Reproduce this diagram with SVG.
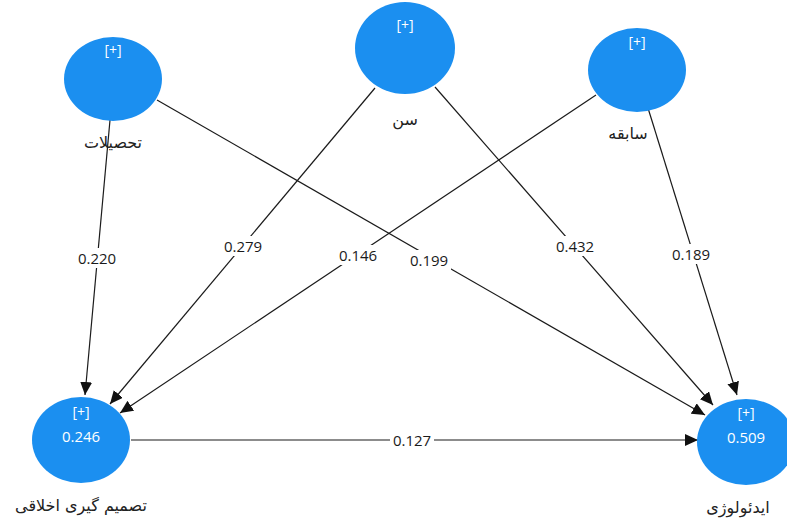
<svg xmlns="http://www.w3.org/2000/svg" width="787" height="522" viewBox="0 0 787 522">
<style>
.node{fill:#1b8ff0}
.plus{fill:#ffffff;font-family:"Open Sans","Noto Sans","DejaVu Sans",sans-serif;font-size:14px;text-anchor:middle}
.val{fill:#ffffff;font-family:"Open Sans","Noto Sans","DejaVu Sans",sans-serif;font-size:15px;text-anchor:middle}
.name{fill:#222222;font-family:"DejaVu Sans","Noto Sans",sans-serif;font-size:16px;text-anchor:middle}
.edge{stroke:#1a1a1a;stroke-width:1.2;fill:none;marker-end:url(#arr)}
.lbg{fill:#ffffff}
.lbl{fill:#1a1a1a;font-family:"Open Sans","Noto Sans",sans-serif;font-size:15px;text-anchor:middle;dominant-baseline:central}
</style>
<defs>
<marker id="arr" markerUnits="userSpaceOnUse" markerWidth="14" markerHeight="12" refX="13" refY="6" orient="auto">
<path d="M0,0 L13,6 L0,12 Z" fill="#111111"/>
</marker>
</defs>
<rect width="787" height="522" fill="#ffffff"/>
<g id="connectors">
<line class="edge" x1="110" y1="120" x2="85" y2="395"/>
<line class="edge" x1="157" y1="100" x2="705" y2="415"/>
<line class="edge" x1="375" y1="88" x2="110" y2="404"/>
<line class="edge" x1="435" y1="87" x2="713" y2="405"/>
<line class="edge" x1="596" y1="95" x2="120" y2="413"/>
<line class="edge" x1="648" y1="108" x2="737" y2="395"/>
<line class="edge" x1="131" y1="440" x2="698" y2="440"/>
<g id="edge-labels">
<rect class="lbg" x="75" y="248" width="44" height="20"/><text class="lbl" x="97" y="258">0.220</text>
<rect class="lbg" x="407" y="250" width="44" height="20"/><text class="lbl" x="429" y="260">0.199</text>
<rect class="lbg" x="221" y="236" width="44" height="20"/><text class="lbl" x="243" y="246">0.279</text>
<rect class="lbg" x="553" y="236" width="44" height="20"/><text class="lbl" x="575" y="246">0.432</text>
<rect class="lbg" x="336" y="245" width="44" height="20"/><text class="lbl" x="358" y="255">0.146</text>
<rect class="lbg" x="669" y="244" width="44" height="20"/><text class="lbl" x="691" y="254">0.189</text>
<rect class="lbg" x="390" y="430" width="44" height="20"/><text class="lbl" x="412" y="440">0.127</text>
</g>
</g>
<g id="n-education">
<ellipse class="node" cx="113" cy="79" rx="49" ry="42"/>
<text class="plus" x="113" y="55">[+]</text>
<text class="name" x="113" y="148">تحصیلات</text>
</g>
<g id="n-age">
<ellipse class="node" cx="405" cy="48" rx="50" ry="46"/>
<text class="plus" x="405" y="30">[+]</text>
<text class="name" x="405" y="125">سن</text>
</g>
<g id="n-experience">
<ellipse class="node" cx="637" cy="70" rx="49" ry="42"/>
<text class="plus" x="637" y="47">[+]</text>
<text class="name" x="628" y="139">سابقه</text>
</g>
<g id="n-decision">
<ellipse class="node" cx="81" cy="440" rx="49" ry="43"/>
<text class="plus" x="81" y="417">[+]</text>
<text class="val" x="81" y="442">0.246</text>
<text class="name" x="81" y="511">تصمیم گیری اخلاقی</text>
</g>
<g id="n-ideology">
<ellipse class="node" cx="746" cy="442" rx="49" ry="43"/>
<text class="plus" x="746" y="418">[+]</text>
<text class="val" x="746" y="443">0.509</text>
<text class="name" x="738" y="513">ایدئولوژی</text>
</g>
</svg>
